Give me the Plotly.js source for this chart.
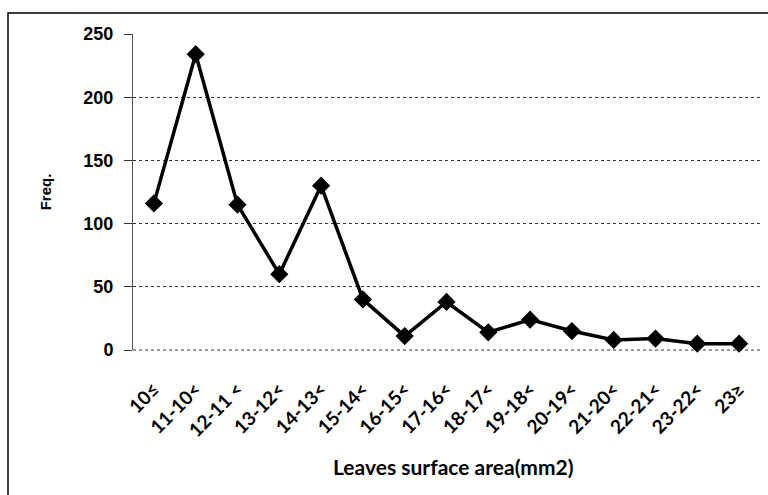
<!DOCTYPE html>
<html>
<head>
<meta charset="utf-8">
<script src="https://cdn.plot.ly/plotly-3.0.1.min.js"></script>
<style>
  html, body { margin: 0; padding: 0; background: #fff; }
  #chart { width: 768px; height: 495px; }
</style>
</head>
<body>
<div id="chart"></div>
<script>
// Data
const categories = ["10≤", "11-10<", "12-11 <", "13-12<", "14-13<", "15-14<", "16-15<",
                    "17-16<", "18-17<", "19-18<", "20-19<", "21-20<", "22-21<", "23-22<", "23≥"];
const freq = [116, 234, 115, 60, 130, 40, 11, 38, 14, 24, 15, 8, 9, 5, 5];
const yTicks = [0, 50, 100, 150, 200, 250];

const W = 768, H = 495;
const mL = 133, mR = 8, mT = 34, mB = 145;
const pw = W - mL - mR, ph = H - mT - mB;

const trace = {
  x: categories,
  y: freq,
  type: 'scatter',
  mode: 'lines+markers',
  line: { color: '#000', width: 3.5 },
  marker: { symbol: 'diamond', size: 14, color: '#000' },
  cliponaxis: false,
  hoverinfo: 'skip'
};

const layout = {
  width: W, height: H,
  margin: { l: mL, r: mR, t: mT, b: mB, pad: 0 },
  paper_bgcolor: '#fff',
  plot_bgcolor: '#fff',
  showlegend: false,
  xaxis: {
    type: 'category',
    range: [-0.5, categories.length - 0.5],
    tickangle: -45,
    tickfont: { family: 'Lato, "Open Sans", sans-serif', size: 19, color: '#000', weight: 'bold' },
    showgrid: false,
    zeroline: false,
    showline: false,
    ticks: 'outside',
    ticklen: 20,
    tickcolor: 'rgba(0,0,0,0)',
    title: { text: '' }
  },
  yaxis: {
    range: [0, 250],
    tickvals: yTicks,
    ticktext: yTicks.map(String),
    tickfont: { family: '"Liberation Sans", Arial, sans-serif', size: 18, color: '#000', weight: 'bold' },
    showgrid: true,
    gridcolor: '#333',
    griddash: 'dot',
    gridwidth: 1,
    zeroline: false,
    showline: true,
    linecolor: '#555',
    linewidth: 1,
    ticks: 'outside',
    ticklen: 8,
    tickcolor: '#333',
    ticklabelstandoff: 7,
    title: { text: 'Freq.', font: { family: '"Liberation Sans", Arial, sans-serif', size: 15, color: '#000', weight: 'bold' }, standoff: 28 }
  },
  annotations: [
    { text: 'Leaves surface area(mm2)', xref: 'paper', yref: 'paper',
      x: (453 - mL) / pw, y: (H - 466 - mB) / ph, xanchor: 'center', yanchor: 'middle',
      showarrow: false,
      font: { family: 'Lato, "Open Sans", sans-serif', size: 21, color: '#000', weight: 'bold' } }
  ],
  shapes: [
    { type: 'line', xref: 'paper', yref: 'paper',
      x0: 0, x1: 1, y0: 0, y1: 0,
      line: { color: '#333', width: 1, dash: 'dot' } },
    { type: 'rect', xref: 'paper', yref: 'paper',
      x0: (8 - mL) / pw, x1: (W + 20 - mL) / pw,
      y0: -(H + 20 - mT - ph) / ph, y1: (H - 13 - mB) / ph,
      line: { color: '#000', width: 1.5 }, fillcolor: 'rgba(0,0,0,0)' }
  ]
};

Plotly.newPlot('chart', [trace], layout, { displayModeBar: false, staticPlot: true });
</script>
</body>
</html>
